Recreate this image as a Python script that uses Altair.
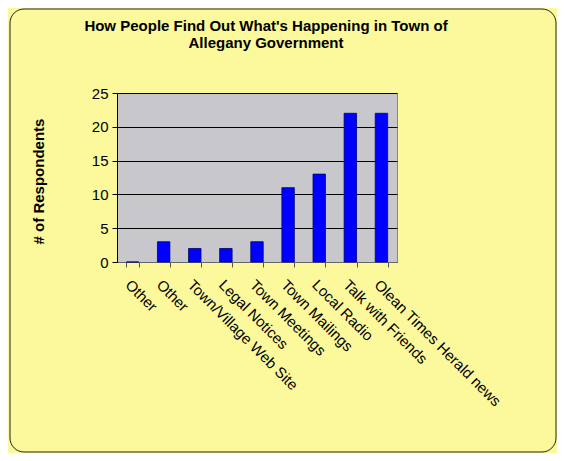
import altair as alt
import pandas as pd

categories = ["Other", "Other", "Town/Village Web Site", "Legal Notices",
              "Town Meetings", "Town Mailings", "Local Radio",
              "Talk with Friends", "Olean Times Herald news"]
values = [0, 3, 2, 2, 3, 11, 13, 22, 22]
y_ticks = [0, 5, 10, 15, 20, 25]

df = pd.DataFrame({"idx": list(range(len(categories))), "label": categories, "value": values})
label_expr = "[" + ",".join("'" + c.replace("'", "\\'") + "'" for c in categories) + "][datum.value]"

FONT = "Liberation Sans"

bars = alt.Chart(df).mark_bar(color="#0000FF", stroke="#000070", strokeWidth=0.8).encode(
    x=alt.X("idx:O",
            scale=alt.Scale(paddingInner=0.6, paddingOuter=0.3),
            axis=alt.Axis(title=None, labelExpr=label_expr, labelAngle=45, labelAlign="left",
                          labelBaseline="top", labelPadding=10, labelFontSize=15,
                          labelFont=FONT, labelColor="black", tickBand="extent",
                          tickSize=5, tickColor="#555555", domainColor="#666666",
                          labelOverlap=False, labelLimit=0)),
    y=alt.Y("value:Q",
            scale=alt.Scale(domain=[0, 25], nice=False),
            axis=alt.Axis(title="# of Respondents", values=y_ticks, grid=True,
                          gridColor="black", gridOpacity=1, gridWidth=1,
                          domainColor="black", tickColor="black", tickSize=5,
                          labelFontSize=15, labelFont=FONT, labelColor="black",
                          labelPadding=4, titleFont=FONT, titleFontSize=15,
                          titleFontWeight="bold", titleColor="black",
                          titleX=-79, titleY=88, titleAngle=-90,
                          titleAlign="center", titleBaseline="middle")),
)

border = alt.Chart(alt.Data(values=[{}])).mark_rect(
    fill=None, stroke="#222222", strokeWidth=1, cornerRadius=14
).encode(
    x=alt.value(-107), x2=alt.value(439), y=alt.value(-84), y2=alt.value(359)
)

chart = alt.layer(bars, border).properties(
    width=280, height=169,
    title=alt.Title(["How People Find Out What's Happening in Town of", "Allegany Government"],
                    fontSize=15, font=FONT, fontWeight="bold", color="black",
                    lineHeight=17, anchor="middle", frame="group", dx=9, offset=-42),
    autosize=alt.AutoSizeParams(type="none"),
    padding={"left": 109, "top": 85, "right": 160, "bottom": 191},
    background="#FCF89C",
).configure_view(
    fill="#C8C8CC", stroke="#888888", strokeWidth=1
)

chart.save("out.html", embed_options={"renderer": "svg", "actions": False})
